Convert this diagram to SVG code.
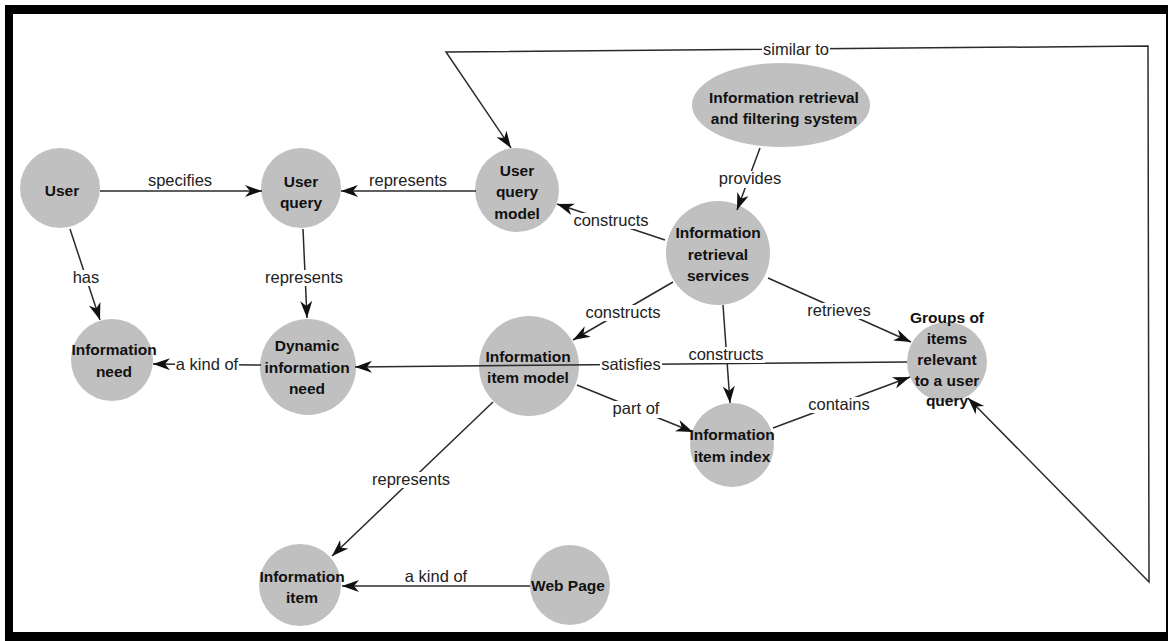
<svg xmlns="http://www.w3.org/2000/svg" width="1168" height="641" viewBox="0 0 1168 641">
<style>
.node{fill:#c0c0c0;stroke:none}
.nt{font-family:"Liberation Sans",Arial,sans-serif;font-weight:bold;font-size:15.5px;fill:#111;text-anchor:middle}
.edge{fill:none;stroke:#2a2a2a;stroke-width:1.5}
.lbl{font-family:"Liberation Sans",Arial,sans-serif;font-size:16.5px;fill:#222;text-anchor:middle}
.bg{fill:#fff}
</style>
<defs>
<marker id="arr" markerUnits="userSpaceOnUse" markerWidth="18" markerHeight="13" refX="17" refY="6" orient="auto-start-reverse">
<path d="M0,0 L17,6 L0,12 L5,6 z" fill="#111"/>
</marker>
</defs>
<rect x="0" y="0" width="1168" height="641" fill="#fff"/>
<rect x="5" y="5" width="1163" height="636" fill="#000"/>
<rect x="13" y="14" width="1153" height="618" fill="#fff"/>

<g id="n-user"><circle class="node" cx="60" cy="188" r="40"/><text class="nt" x="62" y="196">User</text></g>
<g id="n-userquery"><circle class="node" cx="301" cy="188" r="40"/><text class="nt" x="301" y="187">User</text><text class="nt" x="301" y="208">query</text></g>
<g id="n-uqmodel"><circle class="node" cx="517" cy="190" r="42"/><text class="nt" x="517" y="176">User</text><text class="nt" x="517" y="197">query</text><text class="nt" x="517" y="219">model</text></g>
<g id="n-irfs"><ellipse class="node" cx="781" cy="105" rx="89" ry="42"/><text class="nt" x="784" y="103">Information retrieval</text><text class="nt" x="784" y="124">and filtering system</text></g>
<g id="n-irs"><circle class="node" cx="718" cy="253" r="52"/><text class="nt" x="718" y="238">Information</text><text class="nt" x="718" y="260">retrieval</text><text class="nt" x="718" y="281">services</text></g>
<g id="n-groups"><circle class="node" cx="947" cy="362" r="40"/><text class="nt" x="947" y="323">Groups of</text><text class="nt" x="947" y="344">items</text><text class="nt" x="947" y="365">relevant</text><text class="nt" x="947" y="386">to a user</text><text class="nt" x="947" y="406">query</text></g>
<g id="n-infoneed"><circle class="node" cx="112" cy="360" r="41"/><text class="nt" x="114" y="355">Information</text><text class="nt" x="114" y="377">need</text></g>
<g id="n-dynneed"><circle class="node" cx="308" cy="367" r="48"/><text class="nt" x="307" y="351">Dynamic</text><text class="nt" x="307" y="373">information</text><text class="nt" x="307" y="394">need</text></g>
<g id="n-itemmodel"><circle class="node" cx="529" cy="366" r="50"/><text class="nt" x="528" y="362">Information</text><text class="nt" x="528" y="383">item model</text></g>
<g id="n-itemindex"><circle class="node" cx="732" cy="445" r="42"/><text class="nt" x="732" y="440">Information</text><text class="nt" x="732" y="462">item index</text></g>
<g id="n-item"><circle class="node" cx="300" cy="585" r="41"/><text class="nt" x="302" y="582">Information</text><text class="nt" x="302" y="603">item</text></g>
<g id="n-webpage"><circle class="node" cx="570" cy="585" r="40"/><text class="nt" x="568" y="591">Web Page</text></g>

<g id="connectors">
<line class="edge" x1="100" y1="191" x2="262" y2="191" marker-end="url(#arr)"/>
<text class="lbl" x="180" y="186">specifies</text>
<line class="edge" x1="476" y1="191" x2="341" y2="191" marker-end="url(#arr)"/>
<text class="lbl" x="408" y="186">represents</text>
<line class="edge" x1="70" y1="229" x2="100" y2="320" marker-end="url(#arr)"/>
<rect class="bg" x="72" y="270" width="28" height="16"/><text class="lbl" x="86" y="283">has</text>
<line class="edge" x1="303" y1="229" x2="307" y2="318" marker-end="url(#arr)"/>
<rect class="bg" x="264" y="270" width="80" height="16"/><text class="lbl" x="304" y="283">represents</text>
<line class="edge" x1="261" y1="365" x2="153" y2="364" marker-end="url(#arr)"/>
<rect class="bg" x="175" y="357" width="64" height="16"/><text class="lbl" x="207" y="370">a kind of</text>
<line class="edge" x1="907" y1="362" x2="355" y2="367" marker-end="url(#arr)"/>
<rect class="bg" x="600" y="357" width="62" height="16"/><text class="lbl" x="631" y="370">satisfies</text>
<line class="edge" x1="665" y1="240" x2="557" y2="204" marker-end="url(#arr)"/>
<rect class="bg" x="573" y="213" width="77" height="16"/><text class="lbl" x="611" y="226">constructs</text>
<line class="edge" x1="760" y1="148" x2="737" y2="210" marker-end="url(#arr)"/>
<rect class="bg" x="718" y="171" width="64" height="17"/><text class="lbl" x="750" y="184">provides</text>
<line class="edge" x1="673" y1="282" x2="573" y2="340" marker-end="url(#arr)"/>
<rect class="bg" x="585" y="305" width="77" height="16"/><text class="lbl" x="623" y="318">constructs</text>
<line class="edge" x1="723" y1="305" x2="730" y2="403" marker-end="url(#arr)"/>
<rect class="bg" x="688" y="347" width="77" height="16"/><text class="lbl" x="726" y="360">constructs</text>
<line class="edge" x1="768" y1="278" x2="911" y2="342" marker-end="url(#arr)"/>
<rect class="bg" x="807" y="303" width="65" height="16"/><text class="lbl" x="839" y="316">retrieves</text>
<line class="edge" x1="773" y1="428" x2="910" y2="377" marker-end="url(#arr)"/>
<rect class="bg" x="808" y="397" width="63" height="16"/><text class="lbl" x="839" y="410">contains</text>
<line class="edge" x1="577" y1="385" x2="693" y2="432" marker-end="url(#arr)"/>
<rect class="bg" x="612" y="401" width="48" height="17"/><text class="lbl" x="636" y="414">part of</text>
<line class="edge" x1="493" y1="402" x2="332" y2="556" marker-end="url(#arr)"/>
<rect class="bg" x="371" y="472" width="80" height="16"/><text class="lbl" x="411" y="485">represents</text>
<line class="edge" x1="530" y1="586" x2="342" y2="586" marker-end="url(#arr)"/>
<text class="lbl" x="436" y="582">a kind of</text>
<polyline class="edge" points="968,398 1149,582 1148,46 446,52 511,148" marker-start="url(#arr)" marker-end="url(#arr)"/>
<rect class="bg" x="762" y="42" width="68" height="16"/><text class="lbl" x="796" y="55">similar to</text>
</g>
</svg>
